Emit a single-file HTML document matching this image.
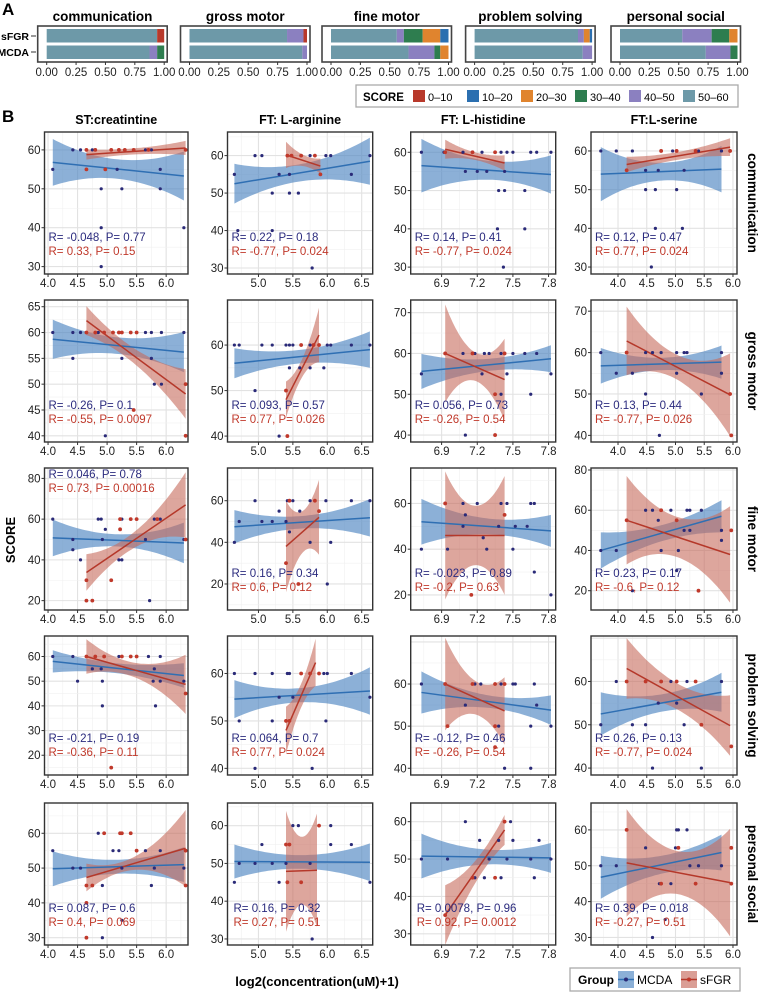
<!DOCTYPE html>
<html><head><meta charset="utf-8"><style>
body{margin:0;background:#fff;}
svg{display:block;font-family:"Liberation Sans",Arial,sans-serif;}
</style></head><body>
<svg id="fig" width="759" height="992" viewBox="0 0 759 992" xmlns="http://www.w3.org/2000/svg">
<text x="2" y="15" font-size="17" font-weight="bold">A</text>
<text x="2" y="122" font-size="17" font-weight="bold">B</text>
<g id="gA"></g>
<g id="gB"></g>
<text x="15" y="540" font-size="13" font-weight="bold" text-anchor="middle" transform="rotate(-90 15 540)">SCORE</text>
<text x="317" y="986" font-size="13" font-weight="bold" text-anchor="middle">log2(concentration(uM)+1)</text>
</svg>
<script>
// ---------- Panel A data ----------
const domainsA = ["communication","gross motor","fine motor","problem solving","personal social"];
const scoreCats = ["0-10","10-20","20-30","30-40","40-50","50-60"];
const scoreColors = ["#b8392b","#2b6fb0","#e0842e","#2e7d4f","#8b80c0","#6d99a8"];
// fractions per category in order 50-60,40-50,30-40,20-30,10-20,0-10
const sFGRFrac = [[0.94,0,0,0,0,0.06],[0.83,0.14,0,0,0,0.03],[0.56,0.06,0.16,0.15,0.07,0],[0.88,0.05,0,0.05,0.02,0],[0.53,0.25,0.15,0.07,0,0]];
const MCDAFrac = [[0.875,0.065,0.06,0,0,0],[0.96,0.04,0,0,0,0],[0.66,0.22,0.05,0.07,0,0],[0.92,0.08,0,0,0,0],[0.73,0.21,0.06,0,0,0]];
const xTicksA = [0,0.25,0.5,0.75,1];

// ---------- Panel B data ----------
const colTitles = ["ST:creatintine","FT: L-arginine","FT: L-histidine","FT:L-serine"];
const rowTitles = ["communication","gross motor","fine motor","problem solving","personal social"];
const xTicksCol = [[4,4.5,5,5.5,6],[5,5.5,6,6.5],[6.9,7.2,7.5,7.8],[4,4.5,5,5.5,6]];
const xDomCol = [[3.94,6.37],[4.55,6.66],[6.64,7.86],[3.53,6.07]];
const yDom = [
 [[28.1,64.6],[28.4,66.3],[28.2,65.3],[28.2,64.9]],
 [[38.8,66.3],[38.7,69.9],[38.3,73.1],[38.4,72.7]],
 [[15.4,85.1],[7.5,75.7],[13.4,75.5],[10.4,81]],
 [[12.0,68.3],[38.6,67.9],[38.4,71.4],[38.4,70.5]],
 [[27.9,68.7],[28.4,66],[27.0,65],[27.9,67.5]]];
const yTicks = [
 [[30,40,50,60],[30,40,50,60],[30,40,50,60],[30,40,50,60]],
 [[40,45,50,55,60,65],[40,50,60],[40,50,60,70],[40,50,60,70]],
 [[20,40,60,80],[20,40,60],[20,40,60],[20,40,60,80]],
 [[20,30,40,50,60],[40,50,60],[40,50,60],[40,50,60]],
 [[30,40,50,60],[30,40,50,60],[30,40,50,60],[30,40,50,60]]];
// fit: [x0,x1,y0,y1,hwStart,hwMid,hwEnd]
const blueFits = [
 [[4.08,6.3,56.8,53.3,6,2.5,6.3],[4.65,6.62,52.5,58.5,5.3,2.3,6.3],[6.73,7.82,56.5,54.2,7,2.5,5],[3.7,5.8,54,55.3,7,2.3,6]],
 [[4.08,6.3,58.7,56.2,3.8,1.6,3.9],[4.65,6.62,56,59,3.3,1.5,4],[6.73,7.82,55.6,58.7,4.3,1.5,3.3],[3.7,5.8,56.8,57.7,4.3,1.5,4]],
 [[4.08,6.3,50.8,48.3,9,3,10],[4.65,6.62,47.5,51.8,8,3,9],[6.73,7.82,52,48,10,3.5,7],[3.7,5.8,40,57,9,4,8]],
 [[4.08,6.3,58,52.3,4.5,2,5],[4.65,6.62,54.6,56.3,4,1.5,5],[6.73,7.82,58,53.8,5,1.5,3.5],[3.7,5.8,52.5,57.5,5,2,4.5]],
 [[4.08,6.3,49.8,51,5,2,5],[4.65,6.62,50.5,50.3,4.5,1.8,5],[6.73,7.82,50.8,50.3,6,2,4],[3.7,5.8,46.8,53.7,6,2.5,5]]];
const redFits = [
 [[4.65,6.33,58.8,60.5,1.3,0.8,1.8],[5.4,5.9,60.2,57.2,3.5,1.5,2],[6.93,7.43,60.8,57.2,2.5,1,2],[4.15,5.95,56.5,61,2,1,2.3]],
 [[4.65,6.33,62.3,48.1,2.8,1.5,4.8],[5.4,5.88,48,62.2,4,2,6],[6.93,7.43,60,53.6,12,3.5,10],[4.15,5.95,62.8,49.8,8.3,3,10]],
 [[4.65,6.33,33.8,67,9,4,16],[5.4,5.88,38,52,22,10,18],[6.93,7.43,46,46,28,13,26],[4.15,5.95,55,38,22,10,24]],
 [[4.65,6.33,60,48.7,7,3,12],[5.4,5.83,48,62.3,5,2.5,5],[6.93,7.43,60,53.6,11,4,8],[4.15,5.95,63,49.8,7,3,7]],
 [[4.65,6.33,47.3,55.7,4,2,11],[5.4,5.85,47.9,48.2,16,9,15],[6.93,7.43,35,57.8,8,3,4],[4.15,5.95,50.8,45.3,15,6,15]]];
const bluePoints = [
 [[[4.08,55],[4.42,60],[4.55,60],[4.75,60],[4.8,60],[4.9,50],[4.9,40],[4.9,30],[4.97,55],[5.17,55],[5.25,50],[5.9,55],[5.9,50],[6.3,40],[5.2,60],[5.65,60],[5.75,60]],
  [[4.65,55],[4.7,40],[4.95,60],[5.05,60],[5.2,50],[5.2,40],[5.3,55],[5.45,55],[5.45,50],[5.58,50],[5.75,60],[5.78,30],[5.98,60],[6.05,60],[6.35,55],[6.62,60]],
  [[6.73,60],[6.92,60],[7.08,60],[7.1,55],[7.2,55],[7.24,60],[7.28,55],[7.37,40],[7.38,50],[7.4,60],[7.42,30],[7.43,50],[7.45,60],[7.5,60],[7.6,50],[7.6,40],[7.65,60],[7.7,60],[7.82,60],[7.43,55]],
  [[3.7,60],[3.97,60],[4.25,60],[4.48,55],[4.48,50],[4.65,50],[4.65,40],[4.58,30],[4.7,55],[4.75,60],[4.95,60],[5.02,50],[5.12,40],[5.15,55],[5.4,60],[5.8,60]]],
 [[[4.08,60],[4.42,60],[4.42,55],[4.55,60],[4.85,60],[4.97,40],[5.2,60],[5.25,55],[5.65,60],[5.75,60],[5.75,55],[5.92,60],[5.92,50],[6.3,60],[5.8,50]],
  [[4.65,60],[4.72,60],[4.95,50],[5.05,60],[5.2,60],[5.3,40],[5.4,60],[5.45,60],[5.5,60],[5.45,55],[5.6,55],[5.75,60],[5.75,55],[5.95,55],[6.0,60],[6.05,60],[6.35,60],[6.62,60]],
  [[6.73,55],[6.93,60],[7.1,40],[7.08,60],[7.18,60],[7.24,55],[7.26,60],[7.3,60],[7.4,60],[7.45,55],[7.5,60],[7.6,60],[7.65,50],[7.7,60],[7.82,55],[7.4,50]],
  [[3.7,60],[3.97,55],[4.25,55],[4.48,60],[4.48,50],[4.6,60],[4.72,40],[4.75,60],[5.02,55],[5.02,60],[5.15,60],[5.2,60],[5.45,50],[5.8,60],[5.8,55]]],
 [[[4.08,60],[4.42,50],[4.42,45],[4.55,40],[4.85,60],[4.9,60],[4.92,50],[4.97,55],[5.2,40],[5.25,40],[5.25,60],[5.65,50],[5.72,20],[5.8,60],[5.9,60],[6.3,50]],
  [[4.65,40],[4.72,50],[4.95,60],[5.05,50],[5.2,50],[5.3,55],[5.4,50],[5.42,60],[5.45,45],[5.5,60],[5.6,55],[5.75,40],[5.75,60],[5.98,60],[6.0,20],[6.05,40],[6.35,60],[6.62,60]],
  [[6.73,40],[6.95,40],[7.08,60],[7.1,55],[7.08,50],[7.2,60],[7.25,45],[7.28,40],[7.38,50],[7.4,60],[7.45,60],[7.5,40],[7.52,50],[7.62,50],[7.65,60],[7.68,60],[7.68,30],[7.82,20]],
  [[3.7,40],[3.97,40],[4.25,20],[4.48,60],[4.6,60],[4.7,55],[4.75,60],[4.75,40],[4.92,60],[5.02,30],[5.05,40],[5.15,50],[5.2,60],[5.25,60],[5.25,50],[5.45,60],[5.8,50],[5.8,45]]],
 [[[4.08,60],[4.42,60],[4.5,50],[4.92,50],[4.92,40],[4.75,55],[4.9,55],[5.2,60],[5.7,60],[5.78,50],[5.82,40],[5.9,60],[5.9,50],[5.8,55],[6.3,50]],
  [[4.65,60],[4.72,50],[4.95,60],[4.95,40],[5.2,60],[5.2,50],[5.3,55],[5.42,60],[5.45,60],[5.5,55],[5.78,40],[5.95,60],[5.98,50],[6.0,60],[6.35,60],[6.62,55]],
  [[6.73,60],[7.1,55],[7.18,60],[7.23,60],[7.38,50],[7.4,60],[7.43,40],[7.5,60],[7.52,60],[7.65,50],[7.68,60],[7.7,55],[7.82,50],[7.65,40]],
  [[3.7,50],[3.97,60],[4.25,50],[4.48,50],[4.6,40],[4.7,55],[4.75,60],[4.92,60],[5.02,55],[5.15,50],[5.2,60],[5.45,40],[5.8,60]]],
 [[[4.08,55],[4.42,50],[4.55,50],[4.85,60],[4.92,45],[4.92,30],[5.1,55],[5.2,55],[5.25,50],[5.65,55],[5.75,45],[5.8,50],[5.9,55],[6.3,50],[5.25,35]],
  [[4.65,45],[4.72,50],[4.95,50],[5.05,55],[5.2,50],[5.3,45],[5.4,50],[5.5,60],[5.58,60],[5.78,30],[5.75,50],[6.05,60],[6.05,55],[6.35,55],[6.62,45]],
  [[6.73,50],[6.95,50],[7.1,60],[7.18,45],[7.22,55],[7.26,45],[7.3,50],[7.38,55],[7.4,45],[7.45,50],[7.48,60],[7.5,55],[7.65,50],[7.68,45],[7.72,55],[7.82,50]],
  [[3.7,50],[3.97,50],[4.48,55],[4.72,45],[4.75,45],[4.92,45],[5.0,55],[5.02,60],[5.05,60],[5.2,60],[5.25,50],[5.4,50],[5.8,50],[4.6,30],[4.82,35]]]];
const redPoints = [
 [[[4.65,60],[4.65,55],[4.8,60],[4.97,55],[5.07,60],[5.2,60],[5.3,60],[5.45,60],[5.7,60],[6.33,60]],
  [[5.42,60],[5.48,60],[5.62,60],[5.82,60],[5.9,55]],
  [[6.93,60],[7.16,60],[7.35,60]],
  [[4.15,55],[4.75,60],[5.02,60],[5.35,60],[5.95,60]]],
 [[[4.65,60],[4.8,60],[4.95,60],[5.1,60],[5.2,60],[5.25,60],[5.4,60],[5.5,60],[6.33,50],[6.33,40],[5.45,45]],
  [[5.4,50],[5.42,40],[5.62,60],[5.8,60],[5.88,60]],
  [[6.93,60],[7.16,60],[7.35,50],[7.35,40],[7.43,60]],
  [[4.15,60],[5.95,50],[5.97,40]]],
 [[[4.65,30],[4.65,20],[4.75,20],[5.07,30],[5.22,60],[5.22,55],[5.4,60],[5.5,60],[5.85,60],[6.33,50]],
  [[5.4,30],[5.45,60],[5.82,60],[5.88,55],[5.58,20]],
  [[6.93,60],[7.15,20],[7.43,55]],
  [[4.15,55],[4.75,60],[5.02,55],[5.4,20],[5.97,50]]],
 [[[4.65,60],[4.8,60],[4.95,60],[5.25,60],[5.4,60],[5.5,60],[5.07,15],[6.33,45]],
  [[5.4,50],[5.45,50],[5.62,60],[5.75,60],[5.88,60]],
  [[6.93,60],[6.95,50],[7.16,60],[7.35,60],[7.35,50],[7.43,60],[7.35,45]],
  [[4.15,60],[4.48,60],[4.75,60],[5.02,60],[5.35,60],[5.45,50],[5.97,45]]],
 [[[4.65,45],[4.65,40],[4.65,30],[4.75,45],[4.95,60],[5.22,60],[5.25,60],[5.4,60],[5.5,55],[6.33,55],[6.33,45]],
  [[5.4,55],[5.42,45],[5.45,55],[5.62,45],[5.88,60]],
  [[6.93,35],[7.16,45],[7.35,45],[7.43,60]],
  [[4.15,60],[4.75,45],[5.05,55],[5.35,45],[5.97,55],[5.97,45]]]];
const blueStats = [
 ["R= -0.048, P= 0.77","R= 0.22, P= 0.18","R= 0.14, P= 0.41","R= 0.12, P= 0.47"],
 ["R= -0.26, P= 0.1","R= 0.093, P= 0.57","R= 0.056, P= 0.73","R= 0.13, P= 0.44"],
 ["R= 0.046, P= 0.78","R= 0.16, P= 0.34","R= -0.023, P= 0.89","R= 0.23, P= 0.17"],
 ["R= -0.21, P= 0.19","R= 0.064, P= 0.7","R= -0.12, P= 0.46","R= 0.26, P= 0.13"],
 ["R= 0.087, P= 0.6","R= 0.16, P= 0.32","R= 0.0078, P= 0.96","R= 0.39, P= 0.018"]];
const redStats = [
 ["R= 0.33, P= 0.15","R= -0.77, P= 0.024","R= -0.77, P= 0.024","R= 0.77, P= 0.024"],
 ["R= -0.55, P= 0.0097","R= 0.77, P= 0.026","R= -0.26, P= 0.54","R= -0.77, P= 0.026"],
 ["R= 0.73, P= 0.00016","R= 0.6, P= 0.12","R= -0.2, P= 0.63","R= -0.6, P= 0.12"],
 ["R= -0.36, P= 0.11","R= 0.77, P= 0.024","R= -0.26, P= 0.54","R= -0.77, P= 0.024"],
 ["R= 0.4, P= 0.069","R= 0.27, P= 0.51","R= 0.92, P= 0.0012","R= -0.27, P= 0.51"]];

const NS="http://www.w3.org/2000/svg";
function mk(tag,attrs,parent){const e=document.createElementNS(NS,tag);for(const k in attrs)e.setAttribute(k,attrs[k]);if(parent)parent.appendChild(e);return e;}

// ---------- Draw panel A ----------
const gA=document.getElementById('gA');
const boxL=[37.7,180.5,322,465.6,611], boxW=129.5;
const bandOrder=[5,4,3,2,1,0];
domainsA.forEach((d,i)=>{
  const bx=boxL[i], x0=bx+9, x1=bx+boxW-3;
  const sx=v=>x0+v*(x1-x0);
  const t=mk('text',{x:(bx+bx+boxW)/2,y:21,'font-size':13.5,'font-weight':'bold','text-anchor':'middle'},gA);
  t.textContent=d;
  
  
  [[sFGRFrac[i],29],[MCDAFrac[i],45.5]].forEach(([fr,y])=>{
    let acc=0;
    fr.forEach((f,k)=>{ if(f<=0)return;
      const r=mk('rect',{x:sx(acc),y:y,width:sx(acc+f)-sx(acc),height:13.5,fill:scoreColors[bandOrder[k]]},gA);
      
      
      acc+=f;});
  });
  mk('rect',{x:bx,y:26,width:boxW,height:36,fill:'none',stroke:'#444','stroke-width':1.6},gA);
  xTicksA.forEach(v=>{
    mk('line',{x1:sx(v),x2:sx(v),y1:62,y2:65,stroke:'#333'},gA);
    const tl=mk('text',{x:sx(v),y:76,'font-size':11.5,'text-anchor':'middle',fill:'#222'},gA);
    tl.textContent=v.toFixed(2);
    
    
  });
});
[["sFGR",40],["MCDA",56]].forEach(([s,y])=>{
  const t=mk('text',{x:29,y:y,'font-size':10.5,'font-weight':'bold','text-anchor':'end'},gA);t.textContent=s;
  
  
  mk('line',{x1:31,x2:36,y1:y-4,y2:y-4,stroke:'#333'},gA);
});
// legend A
const legA=mk('g',{},gA);


mk('rect',{x:356,y:85,width:382,height:22,fill:'#fff',stroke:'#aaa','stroke-width':1.3},legA);
const st=mk('text',{x:363,y:101,'font-size':11.5,'font-weight':'bold'},legA);st.textContent='SCORE';
scoreCats.forEach((c,k)=>{
  const lx=[413,467,521,575,629,683][k];
  mk('rect',{x:lx,y:90,width:12,height:12,fill:scoreColors[k]},legA);
  const lt=mk('text',{x:lx+15,y:101,'font-size':11},legA);lt.textContent=c.replace('-','–');
  
  
});

// ---------- Draw panel B ----------
const gB=document.getElementById('gB');
const colL=[44.5,227.5,410.7,591], colR=[188,372.7,555.7,737];
const rowT=[132,300,468,636,803], rowB=[274,442,610,775,945];
const defs=mk('defs',{},gB);
colTitles.forEach((c,j)=>{
  const t=mk('text',{x:(colL[j]+colR[j])/2,y:124,'font-size':12.5,'font-weight':'bold','text-anchor':'middle'},gB);t.textContent=c;
  
  
});
rowTitles.forEach((r,i)=>{
  const cy=(rowT[i]+rowB[i])/2;
  const t=mk('text',{x:748,y:cy,'font-size':13.5,'font-weight':'bold','text-anchor':'middle',transform:`rotate(90 748 ${cy})`},gB);t.textContent=r;
  
  
});
function hw(f,t){const a=f[4],m=f[5],b=f[6];return a*2*(t-0.5)*(t-1)-m*4*t*(t-1)+b*2*t*(t-0.5);}
for(let i=0;i<5;i++)for(let j=0;j<4;j++){
  const L=colL[j],R=colR[j],T=rowT[i],B=rowB[i];
  const [xa,xb]=xDomCol[j],[ya,yb]=yDom[i][j];
  const sx=v=>L+(v-xa)/(xb-xa)*(R-L), sy=v=>B-(v-ya)/(yb-ya)*(B-T);
  const g=mk('g',{},gB);
  
  
  const cid='c'+i+'_'+j;
  const cp=mk('clipPath',{id:cid},defs);mk('rect',{x:L,y:T,width:R-L,height:B-T},cp);
  mk('rect',{x:L,y:T,width:R-L,height:B-T,fill:'#fff'},g);
  const inner=mk('g',{'clip-path':`url(#${cid})`},g);
  const xt=xTicksCol[j], xs=xt[1]-xt[0];
  for(let v=xt[0]-xs*1.5;v<=xb+xs;v+=xs/2){const M=Math.abs(((v-xt[0])/xs)-Math.round((v-xt[0])/xs))<1e-6;
    mk('line',{x1:sx(v),x2:sx(v),y1:T,y2:B,stroke:M?'#e2e2e2':'#f0f0f0','stroke-width':M?1.1:0.6},inner);}
  const yt=yTicks[i][j], ys=yt[1]-yt[0];
  for(let v=yt[0]-ys*2;v<=yb+ys;v+=ys/2){const M=Math.abs(((v-yt[0])/ys)-Math.round((v-yt[0])/ys))<1e-6;
    mk('line',{x1:L,x2:R,y1:sy(v),y2:sy(v),stroke:M?'#e2e2e2':'#f0f0f0','stroke-width':M?1.1:0.6},inner);}
  [[blueFits[i][j],'#4f86c2'],[redFits[i][j],'#c66a5c']].forEach(([f,bc],gi)=>{
    let up=[],dn=[];
    for(let s=0;s<=40;s++){const t=s/40,x=f[0]+(f[1]-f[0])*t,y=f[2]+(f[3]-f[2])*t,h=Math.max(0.2,hw(f,t));
      up.push(sx(x).toFixed(1)+','+sy(y+h).toFixed(1));dn.unshift(sx(x).toFixed(1)+','+sy(y-h).toFixed(1));}
    const band=mk('polygon',{points:up.concat(dn).join(' '),fill:bc,'fill-opacity':gi?0.6:0.65},inner);
    
    
  });
  [[blueFits[i][j],'#2f6fb3'],[redFits[i][j],'#b5382a']].forEach(([f,lc],gi)=>{
    const ln=mk('line',{x1:sx(f[0]),y1:sy(f[2]),x2:sx(f[1]),y2:sy(f[3]),stroke:lc,'stroke-width':1.5},inner);
    
    
  });
  bluePoints[i][j].forEach(p=>{const c=mk('circle',{cx:sx(p[0]),cy:sy(p[1]),r:1.6,fill:'#2a2a78'},inner);
    
    });
  redPoints[i][j].forEach(p=>{const c=mk('circle',{cx:sx(p[0]),cy:sy(p[1]),r:1.9,fill:'#c0392b'},inner);
    
    });
  const topTxt=(i===2&&j===0);
  const ty1=topTxt?T+10:B-33, ty2=topTxt?T+24:B-19;
  const tx=L+((i===4&&(j===1||j===2))?6:4);
  const b1=mk('text',{x:tx,y:ty1,'font-size':11.5,fill:'#2b2b7e'},g);b1.textContent=blueStats[i][j];
  
  
  const r1=mk('text',{x:tx,y:ty2,'font-size':11.5,fill:'#c0392b'},g);r1.textContent=redStats[i][j];
  
  
  mk('rect',{x:L,y:T,width:R-L,height:B-T,fill:'none',stroke:'#333','stroke-width':1.4},g);
  xt.forEach(v=>{mk('line',{x1:sx(v),x2:sx(v),y1:B,y2:B+3,stroke:'#333'},g);
    const l=mk('text',{x:sx(v),y:B+13,'font-size':11.5,'text-anchor':'middle',fill:'#222'},g);l.textContent=v.toFixed(1);
    
    });
  yt.forEach(v=>{if(v<ya||v>yb)return;mk('line',{x1:L-3,x2:L,y1:sy(v),y2:sy(v),stroke:'#333'},g);
    const l=mk('text',{x:L-4,y:sy(v)+4,'font-size':11.5,'text-anchor':'end',fill:'#222'},g);l.textContent=v;
    
    });
}
// group legend
const lg=mk('g',{},gB);


mk('rect',{x:570,y:968,width:170,height:23,fill:'#fff',stroke:'#aaa','stroke-width':1.3},lg);
const gt=mk('text',{x:578,y:984,'font-size':12,'font-weight':'bold'},lg);gt.textContent='Group';
[[618,'#4f86c2','#2f6fb3','#2a2a78','MCDA'],[681,'#c66a5c','#b5382a','#c0392b','sFGR']].forEach(([x,bc,lc,pc,name])=>{
  mk('rect',{x:x,y:971,width:16,height:17,fill:bc,'fill-opacity':0.65},lg);
  mk('line',{x1:x,x2:x+16,y1:979.5,y2:979.5,stroke:lc,'stroke-width':1.5},lg);
  mk('circle',{cx:x+8,cy:979.5,r:2,fill:pc},lg);
  const t=mk('text',{x:x+19,y:984,'font-size':12},lg);t.textContent=name;
  
  
});
</script>
</body></html>
